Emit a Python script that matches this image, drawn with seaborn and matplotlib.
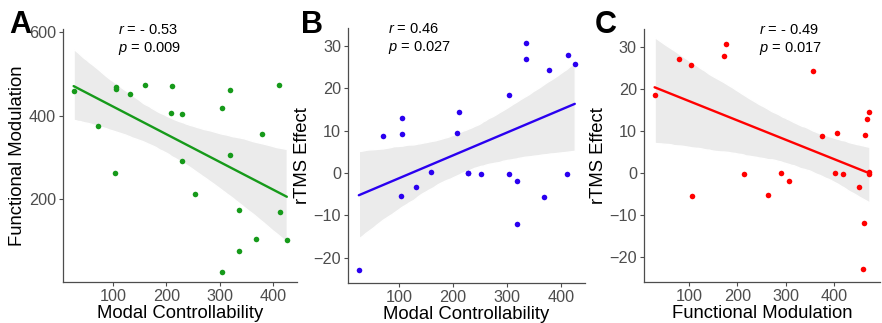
import seaborn as sns
import matplotlib
matplotlib.use("Agg")
import matplotlib.pyplot as plt
import numpy as np
from matplotlib.collections import PolyCollection

sns.set_style("ticks")
plt.rcParams['font.family'] = ['Liberation Sans', 'DejaVu Sans']
plt.rcParams['mathtext.fontset'] = 'custom'
plt.rcParams['mathtext.it'] = 'Liberation Sans:italic'
plt.rcParams['mathtext.rm'] = 'Liberation Sans'
plt.rcParams['text.color'] = 'black'
plt.rcParams['axes.labelcolor'] = 'black'

# one value per subject
modal = [26, 71, 104, 106, 106, 132, 159, 208, 211, 229, 229, 253,
         304, 304, 319, 319, 336, 336, 369, 379, 412, 414, 426]
func_mod = [460, 375, 263, 469, 465, 452, 474, 406, 472, 403, 291, 214,
            419, 28, 462, 306, 176, 78, 106, 356, 474, 171, 103]
rtms = [-23, 8.8, -5.4, 12.9, 9.1, -3.3, 0.2, 9.5, 14.4, 0.0, -0.1, -0.2,
        -0.2, 18.4, -12, -2, 30.7, 27, -5.6, 24.2, -0.2, 27.8, 25.7]

stats_text = [("- 0.53", "0.009"), ("0.46", "0.027"), ("- 0.49", "0.017")]
letters = ["A", "B", "C"]

fig = plt.figure(figsize=(8.82, 3.23), dpi=100)
axA = fig.add_axes([0.0714, 0.127, 0.2653, 0.783])
axB = fig.add_axes([0.3946, 0.124, 0.2687, 0.789])
axC = fig.add_axes([0.730, 0.127, 0.268, 0.783])

panels = [
    (axA, modal, func_mod, '#169a1a', 'Modal Controllability', 'Functional Modulation', 0.235),
    (axB, modal, rtms, '#2a00f0', 'Modal Controllability', 'rTMS Effect', 0.169),
    (axC, func_mod, rtms, '#ff0000', 'Functional Modulation', 'rTMS Effect', 0.487),
]

for i, (ax, x, y, col, xl, yl, tx) in enumerate(panels):
    sns.regplot(x=x, y=y, ax=ax, ci=95, n_boot=2000, seed=3, color=col,
                scatter_kws=dict(s=16, linewidths=0, alpha=1, zorder=3),
                line_kws=dict(lw=1.7, zorder=4))
    for c in ax.collections:
        if isinstance(c, PolyCollection):
            c.set_facecolor('#ebebeb')
            c.set_alpha(1)
            c.set_zorder(1)
    ax.set_xlabel(xl, fontsize=13.3, labelpad=1)
    ax.set_ylabel(yl, fontsize=13.3, labelpad=2)
    ax.set_xticks([100, 200, 300, 400])
    ax.tick_params(labelsize=11.7, labelcolor='#4d4d4d', color='#4d4d4d',
                   length=3, width=0.8, pad=2)
    for s in ['left', 'bottom']:
        ax.spines[s].set_color('#4d4d4d')
        ax.spines[s].set_linewidth(0.9)
    sns.despine(ax=ax)
    r, p = stats_text[i]
    ax.text(tx, 0.996, r'$\it{r}$ = ' + r, transform=ax.transAxes,
            fontsize=10.5, va='center', ha='left')
    ax.text(tx, 0.925, r'$\it{p}$ = ' + p, transform=ax.transAxes,
            fontsize=10.5, va='center', ha='left')

axA.set_xlim(6, 445)
axA.set_ylim(3, 607)
axA.set_yticks([200, 400, 600])
axB.set_xlim(6, 445)
for ax in (axB, axC):
    ax.set_ylim(-26, 34.2)
    ax.set_yticks([-20, -10, 0, 10, 20, 30])
axC.set_xlim(5.7, 496.3)

for lx, letter in zip([9 / 882, 301 / 882, 595 / 882], letters):
    fig.text(lx, 1 - 33 / 323, letter, fontsize=22, fontweight='bold',
             va='baseline', ha='left', color='black')

fig.savefig("out.png", dpi=100)
